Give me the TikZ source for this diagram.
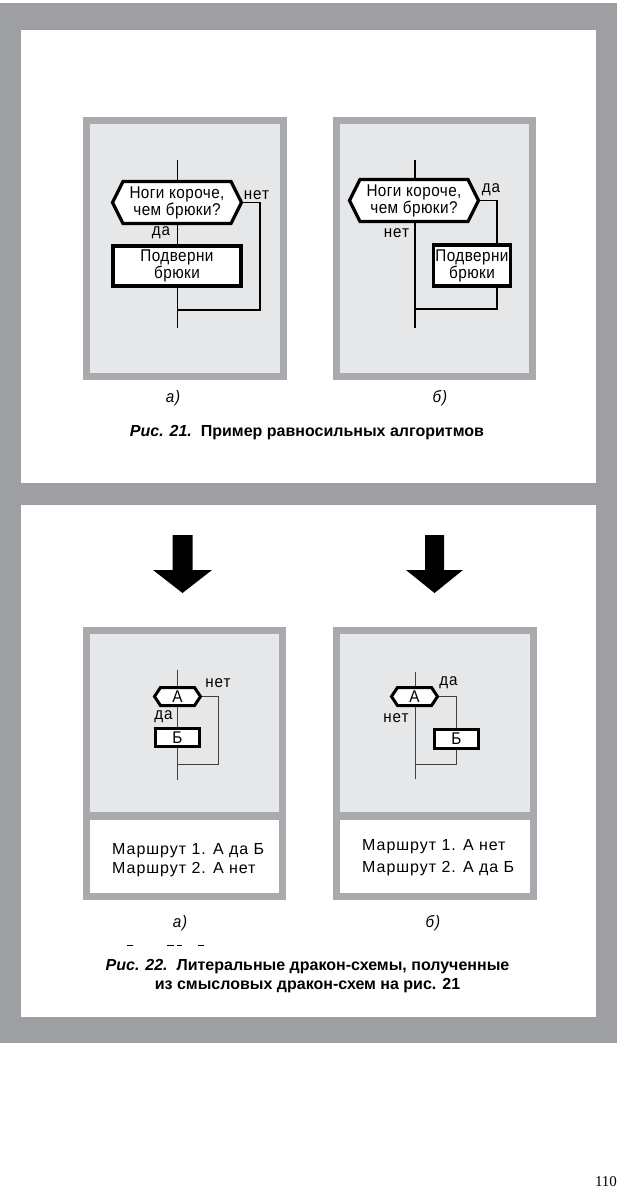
\documentclass[tikz,border=0pt]{standalone}
\usepackage{fontspec}
\setmainfont{Liberation Sans}
\newfontfamily\flowfont[LetterSpace=2.5,FakeStretch=0.9]{Liberation Sans}
\newfontfamily\lblfont[LetterSpace=6,FakeStretch=0.92]{Liberation Sans}
\newfontfamily\routefont[LetterSpace=6]{Liberation Sans}
\newfontfamily\pagefont{Liberation Serif}
\usetikzlibrary{shapes.symbols}
\definecolor{framegray}{HTML}{9D9FA2}
\definecolor{boxedge}{HTML}{A8AAAD}
\definecolor{boxfill}{HTML}{E6E7E8}
\begin{document}
\begin{tikzpicture}[x=1pt,y=-1pt,
  panel/.style={draw=boxedge,line width=7pt,fill=boxfill},
  question/.style={signal,signal to=west and east,draw=black,fill=white,line width=3.2pt,inner sep=0pt,align=center},
  action/.style={rectangle,draw=black,fill=white,line width=3.6pt,inner sep=0pt,align=center},
  bigtext/.style={font=\flowfont\fontsize{17}{17}\selectfont},
  smalltext/.style={font=\flowfont\fontsize{17}{17}\selectfont},
  flow/.style={line width=1.2pt,draw=black},
  thinflow/.style={line width=1pt,draw=black!75},
  lbl/.style={inner sep=0pt,font=\lblfont\fontsize{16.5}{17}\selectfont},
  route/.style={inner sep=0pt,anchor=base west,font=\routefont\fontsize{16}{17}\selectfont},
  sublbl/.style={inner sep=0pt,font=\lblfont\fontsize{16.5}{17}\selectfont\itshape},
  caption/.style={inner sep=0pt,align=center,font=\fontsize{16}{18.5}\selectfont\bfseries},
  blockarrow/.style={fill=black},
]
\useasboundingbox (0,0) rectangle (620,1200);
\fill[white] (0,0) rectangle (620,1200);
% outer frame
\fill[framegray] (0,3) rectangle (617,1043);
\fill[white] (21,30) rectangle (596,483);
\fill[white] (21,505) rectangle (596,1017);
% upper panels
\draw[panel] (86.5,120.5) rectangle (283.5,376.5);
\draw[panel] (336.5,120.5) rectangle (532.5,376.5);
% lower panels
\fill[boxfill] (86.5,630.5) rectangle (282.5,816);
\fill[white] (86.5,816) rectangle (282.5,896.5);
\draw[boxedge,line width=8pt] (86.5,816) -- (282.5,816);
\draw[boxedge,line width=7pt] (86.5,630.5) rectangle (282.5,896.5);
\fill[boxfill] (336.5,630.5) rectangle (533.5,816);
\fill[white] (336.5,816) rectangle (533.5,896.5);
\draw[boxedge,line width=8pt] (336.5,816) -- (533.5,816);
\draw[boxedge,line width=7pt] (336.5,630.5) rectangle (533.5,896.5);

% ---------- Fig 21 a ----------
\coordinate (t1) at (177.5,160);
\coordinate (b1) at (177.5,328);
\coordinate (r1) at (260,310);
\coordinate (m1) at (177.5,310);
\node[question,bigtext,minimum width=129pt,minimum height=42pt,signal pointer angle=127] (q1) at (177,202.5) {Ноги короче,\\чем брюки?};
\node[action,bigtext,minimum width=127.5pt,minimum height=40.5pt] (a1) at (177,266) {Подверни\\брюки};
\draw[flow] (t1) -- (t1 |- q1.north);
\draw[flow] (t1 |- q1.south) -- (t1 |- a1.north);
\draw[flow] (t1 |- a1.south) -- (b1);
\draw[flow] (q1.east) -| (r1) -- (m1);
\node[lbl] (n1) at (256.5,195) {нет};
\node[lbl] (d1) at (161,233) {да};

% ---------- Fig 21 b ----------
\coordinate (t2) at (415,160);
\coordinate (b2) at (415,328);
\coordinate (r2) at (497,309);
\coordinate (m2) at (415,309);
\node[question,bigtext,minimum width=129pt,minimum height=42pt,signal pointer angle=127] (q2) at (414,200.5) {Ноги короче,\\чем брюки?};
\node[action,bigtext,minimum width=77pt,minimum height=41.5pt] (a2) at (472,265.5) {Подверни\\брюки};
\draw[flow] (t2) -- (t2 |- q2.north);
\draw[flow] (t2 |- q2.south) -- (b2);
\draw[flow] (q2.east) -| (a2.north -| r2);
\draw[flow] (a2.south -| r2) -- (r2) -- (m2);
\node[lbl] (d2) at (491,190) {да};
\node[lbl] (n2) at (396.5,233) {нет};

% sub labels and caption 21
\node[sublbl] (sa1) at (173,398) {а)};
\node[sublbl] (sb1) at (440,398) {б)};
\node[caption] (cap21) at (307,433) {\textit{Рис. 21.}\ \ Пример равносильных алгоритмов};

% ---------- block arrows ----------
\fill[blockarrow] (172.5,535) -- (192.5,535) -- (192.5,570) -- (212,570) -- (182.5,593) -- (153,570) -- (172.5,570) -- cycle;
\fill[blockarrow] (425,535) -- (444,535) -- (444,570) -- (463,570) -- (434.5,593) -- (406,570) -- (425,570) -- cycle;

% ---------- Fig 22 a ----------
\coordinate (t3) at (177.5,670);
\coordinate (b3) at (177.5,780);
\coordinate (r3) at (218,764);
\coordinate (m3) at (177.5,764);
\node[question,smalltext,line width=3pt,minimum width=46pt,minimum height=18pt,signal pointer angle=113] (q3) at (177.5,696.5) {А};
\node[action,smalltext,line width=3pt,minimum width=44pt,minimum height=18pt] (a3) at (177.5,737.5) {Б};
\draw[thinflow] (t3) -- (q3.north);
\draw[thinflow] (q3.south) -- (a3.north);
\draw[thinflow] (a3.south) -- (b3);
\draw[thinflow] (q3.east) -| (r3) -- (m3);
\node[lbl] (n3) at (218,683) {нет};
\node[lbl] (d3) at (163.5,717) {да};
\node[route] (p31) at (112,854) {Маршрут 1. А да Б};
\node[route] (p32) at (112,873) {Маршрут 2. А нет};

% ---------- Fig 22 b ----------
\coordinate (t4) at (415,672);
\coordinate (b4) at (415,779);
\coordinate (r4) at (456.5,764);
\coordinate (m4) at (415,764);
\node[question,smalltext,line width=3pt,minimum width=46pt,minimum height=18pt,signal pointer angle=113] (q4) at (414.5,696.5) {А};
\node[action,smalltext,line width=3pt,minimum width=44pt,minimum height=19pt] (a4) at (456.5,739) {Б};
\draw[thinflow] (t4) -- (t4 |- q4.north);
\draw[thinflow] (t4 |- q4.south) -- (b4);
\draw[thinflow] (q4.east) -| (a4.north);
\draw[thinflow] (a4.south) -- (r4) -- (m4);
\node[lbl] (d4) at (448.5,683) {да};
\node[lbl] (n4) at (396,718) {нет};
\node[route] (p41) at (362,850) {Маршрут 1. А нет};
\node[route] (p42) at (362,872) {Маршрут 2. А да Б};

% sub labels, clipped remnants and caption 22
\node[sublbl] (sa2) at (180,923) {а)};
\node[sublbl] (sb2) at (433,923) {б)};
\fill (127,944.5) rectangle (133,946);
\fill (167,944.5) rectangle (174,946);
\fill (177,944.5) rectangle (182,946);
\fill (198,944.5) rectangle (204,946);
\node[caption] (cap22) at (307.5,976) {\textit{Рис. 22.}\ \ Литеральные дракон-схемы, полученные\\из смысловых дракон-схем на рис. 21};

% page number
\node[inner sep=0pt,font=\pagefont\fontsize{15}{17}\selectfont] (page) at (606,1182) {110};
\end{tikzpicture}
\end{document}
